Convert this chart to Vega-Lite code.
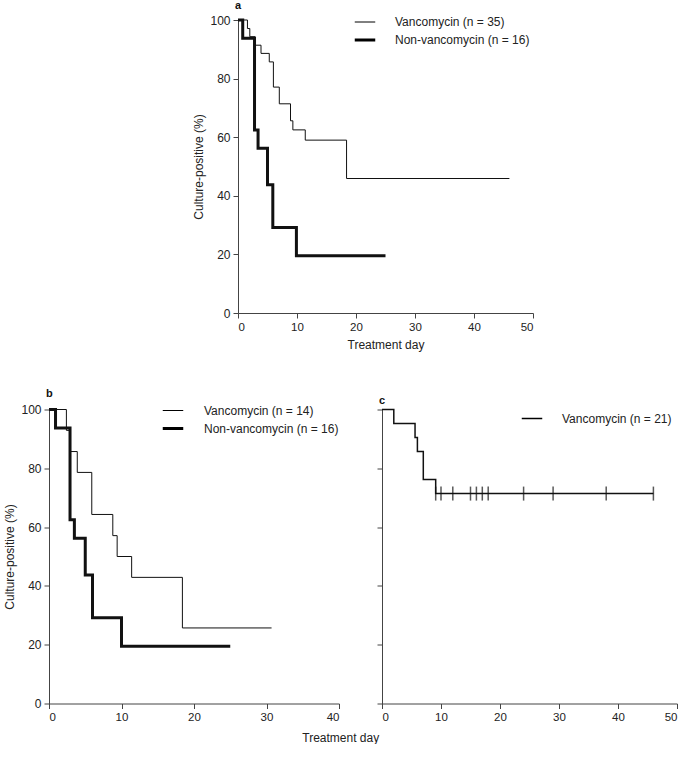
{
  "$schema": "https://vega.github.io/schema/vega-lite/v6.json",
  "background": "white",
  "padding": {"left": 3, "top": 0, "right": 0, "bottom": 0},
  "config": {
    "view": {"stroke": null},
    "font": "Liberation Sans",
    "axis": {"grid": false, "domainColor": "#444", "tickColor": "#444", "labelColor": "#222", "titleColor": "#222", "labelFontSize": 12, "titleFontSize": 12, "titleFontWeight": "normal", "tickSize": 5, "labelPadding": 3, "domainWidth": 1},
    "axisX": {"labelFontSize": 11.5},
    "legend": {"orient": "none", "title": null, "symbolType": "stroke", "symbolSize": 420, "symbolStrokeColor": "black", "labelFontSize": 12, "labelColor": "#222", "rowPadding": -2, "padding": 0},
    "title": {"fontSize": 11, "fontWeight": "bold", "anchor": "start", "color": "#111"}
  },
  "resolve": {"scale": {"strokeWidth": "independent", "x": "independent", "y": "independent"}, "legend": {"strokeWidth": "independent"}},
  "spacing": 36.5,
  "vconcat": [
    {
      "spacing": 0,
      "resolve": {"scale": {"strokeWidth": "independent"}, "legend": {"strokeWidth": "independent"}},
      "hconcat": [
        {
          "width": 143, "height": 2,
          "data": {"values": [{}]},
          "mark": {"type": "rect", "color": "white"},
          "encoding": {}
        },
        {
          "width": 295, "height": 293,
          "title": {"text": "a", "frame": "group", "offset": 0, "dx": -3},
          "data": {"values": [
            {"group": "Vancomycin (n = 35)", "day": 0, "pct": 100},
            {"group": "Vancomycin (n = 35)", "day": 1.6, "pct": 97.1},
            {"group": "Vancomycin (n = 35)", "day": 2.0, "pct": 94.3},
            {"group": "Vancomycin (n = 35)", "day": 2.9, "pct": 91.4},
            {"group": "Vancomycin (n = 35)", "day": 3.9, "pct": 88.6},
            {"group": "Vancomycin (n = 35)", "day": 5.3, "pct": 85.7},
            {"group": "Vancomycin (n = 35)", "day": 6.0, "pct": 77.1},
            {"group": "Vancomycin (n = 35)", "day": 7.0, "pct": 71.4},
            {"group": "Vancomycin (n = 35)", "day": 8.9, "pct": 65.6},
            {"group": "Vancomycin (n = 35)", "day": 9.3, "pct": 62.5},
            {"group": "Vancomycin (n = 35)", "day": 11.4, "pct": 59.0},
            {"group": "Vancomycin (n = 35)", "day": 18.4, "pct": 45.9},
            {"group": "Vancomycin (n = 35)", "day": 46, "pct": 45.9},
            {"group": "Non-vancomycin (n = 16)", "day": 0, "pct": 100},
            {"group": "Non-vancomycin (n = 16)", "day": 0.8, "pct": 93.75},
            {"group": "Non-vancomycin (n = 16)", "day": 2.8, "pct": 62.5},
            {"group": "Non-vancomycin (n = 16)", "day": 3.4, "pct": 56.25},
            {"group": "Non-vancomycin (n = 16)", "day": 5.0, "pct": 43.75},
            {"group": "Non-vancomycin (n = 16)", "day": 5.9, "pct": 29.2},
            {"group": "Non-vancomycin (n = 16)", "day": 9.9, "pct": 19.5},
            {"group": "Non-vancomycin (n = 16)", "day": 25, "pct": 19.5}
          ]},
          "mark": {"type": "line", "interpolate": "step-after", "color": "#111"},
          "encoding": {
            "x": {"field": "day", "type": "quantitative", "scale": {"domain": [0, 50]}, "axis": {"values": [0, 10, 20, 30, 40, 50], "title": "Treatment day", "titlePadding": 7}},
            "y": {"field": "pct", "type": "quantitative", "scale": {"domain": [0, 100]}, "axis": {"values": [0, 20, 40, 60, 80, 100], "title": "Culture-positive (%)", "titlePadding": 4}},
            "strokeWidth": {"field": "group", "type": "nominal", "scale": {"type": "ordinal", "domain": ["Vancomycin (n = 35)", "Non-vancomycin (n = 16)"], "range": [1, 3]}, "legend": {"legendX": 115, "legendY": -9, "labelOffset": 18}}
          }
        }
      ]
    },
    {
      "spacing": 36,
      "resolve": {"scale": {"strokeWidth": "independent", "x": "independent", "y": "independent"}, "legend": {"strokeWidth": "independent"}},
      "title": {"text": "Treatment day", "orient": "bottom", "anchor": "middle", "fontSize": 12, "fontWeight": "normal", "offset": 10, "color": "#222"},
      "hconcat": [
        {
          "width": 290, "height": 294,
          "title": {"text": "b", "frame": "group", "offset": 1, "dx": -3},
          "data": {"values": [
            {"group": "Vancomycin (n = 14)", "day": 0, "pct": 100},
            {"group": "Vancomycin (n = 14)", "day": 2.4, "pct": 92.9},
            {"group": "Vancomycin (n = 14)", "day": 2.9, "pct": 85.7},
            {"group": "Vancomycin (n = 14)", "day": 3.9, "pct": 78.6},
            {"group": "Vancomycin (n = 14)", "day": 5.9, "pct": 64.3},
            {"group": "Vancomycin (n = 14)", "day": 8.8, "pct": 57.1},
            {"group": "Vancomycin (n = 14)", "day": 9.4, "pct": 50.0},
            {"group": "Vancomycin (n = 14)", "day": 11.4, "pct": 42.9},
            {"group": "Vancomycin (n = 14)", "day": 18.4, "pct": 25.7},
            {"group": "Vancomycin (n = 14)", "day": 30.7, "pct": 25.7},
            {"group": "Non-vancomycin (n = 16)", "day": 0, "pct": 100},
            {"group": "Non-vancomycin (n = 16)", "day": 0.9, "pct": 93.75},
            {"group": "Non-vancomycin (n = 16)", "day": 2.9, "pct": 62.5},
            {"group": "Non-vancomycin (n = 16)", "day": 3.5, "pct": 56.25},
            {"group": "Non-vancomycin (n = 16)", "day": 5.0, "pct": 43.75},
            {"group": "Non-vancomycin (n = 16)", "day": 6.0, "pct": 29.2},
            {"group": "Non-vancomycin (n = 16)", "day": 10.0, "pct": 19.5},
            {"group": "Non-vancomycin (n = 16)", "day": 25, "pct": 19.5}
          ]},
          "mark": {"type": "line", "interpolate": "step-after", "color": "#111"},
          "encoding": {
            "x": {"field": "day", "type": "quantitative", "scale": {"domain": [0, 40]}, "axis": {"values": [0, 10, 20, 30, 40], "title": null}},
            "y": {"field": "pct", "type": "quantitative", "scale": {"domain": [0, 100]}, "axis": {"values": [0, 20, 40, 60, 80, 100], "title": "Culture-positive (%)", "titlePadding": 4}},
            "strokeWidth": {"field": "group", "type": "nominal", "scale": {"type": "ordinal", "domain": ["Vancomycin (n = 14)", "Non-vancomycin (n = 16)"], "range": [1, 3]}, "legend": {"legendX": 112, "legendY": -10, "labelOffset": 19}}
          }
        },
        {
          "width": 295, "height": 294,
          "title": {"text": "c", "frame": "group", "offset": 1, "dx": -3},
          "layer": [
            {
              "data": {"values": [
                {"group": "Vancomycin (n = 21)", "day": 0, "pct": 100},
                {"group": "Vancomycin (n = 21)", "day": 2.0, "pct": 95.2},
                {"group": "Vancomycin (n = 21)", "day": 5.6, "pct": 90.5},
                {"group": "Vancomycin (n = 21)", "day": 6.0, "pct": 85.7},
                {"group": "Vancomycin (n = 21)", "day": 7.0, "pct": 76.2},
                {"group": "Vancomycin (n = 21)", "day": 9.1, "pct": 71.4},
                {"group": "Vancomycin (n = 21)", "day": 46, "pct": 71.4}
              ]},
              "mark": {"type": "line", "interpolate": "step-after", "color": "#111"},
              "encoding": {
                "x": {"field": "day", "type": "quantitative", "scale": {"domain": [0, 50]}, "axis": {"values": [0, 10, 20, 30, 40, 50], "title": null}},
                "y": {"field": "pct", "type": "quantitative", "scale": {"domain": [0, 100]}, "axis": {"values": [0, 20, 40, 60, 80, 100], "labels": false, "title": null}},
                "strokeWidth": {"field": "group", "type": "nominal", "scale": {"type": "ordinal", "domain": ["Vancomycin (n = 21)"], "range": [1.5]}, "legend": {"legendX": 139, "legendY": -2, "labelOffset": 19}}
              }
            },
            {
              "data": {"values": [
                {"day": 9.1, "pct": 71.4}, {"day": 10, "pct": 71.4}, {"day": 12, "pct": 71.4},
                {"day": 15, "pct": 71.4}, {"day": 16, "pct": 71.4}, {"day": 17, "pct": 71.4},
                {"day": 18, "pct": 71.4}, {"day": 24, "pct": 71.4}, {"day": 29, "pct": 71.4},
                {"day": 38, "pct": 71.4}, {"day": 46, "pct": 71.4}
              ]},
              "mark": {"type": "tick", "orient": "vertical", "size": 14, "thickness": 1.5, "color": "#111"},
              "encoding": {
                "x": {"field": "day", "type": "quantitative"},
                "y": {"field": "pct", "type": "quantitative"}
              }
            }
          ]
        }
      ]
    }
  ]
}
